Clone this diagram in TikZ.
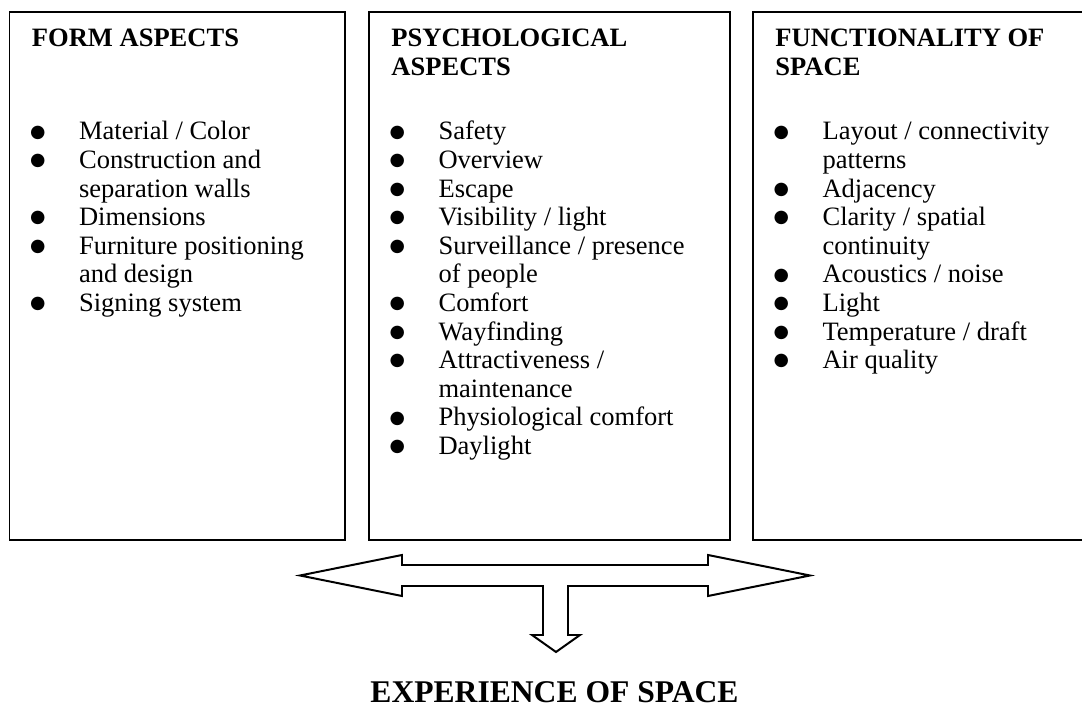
\documentclass[tikz,border=0pt]{standalone}
\usepackage{fontspec}
\setmainfont{Liberation Serif}
\newfontfamily\symfont{DejaVu Sans}
\usetikzlibrary{positioning}
\newcommand{\blt}{\hspace*{-0.8pt}\raisebox{1.3pt}{\symfont\fontsize{8}{9}\selectfont ●}}

\begin{document}
\begin{tikzpicture}[x=0.4525pt,y=-0.4525pt,line width=0.9pt,line join=miter]
	\tikzset{aspectbox/.style={draw,rectangle,inner sep=0pt,outer sep=0pt,minimum height=238.9pt,anchor=north west}}
	\tikzset{headtext/.style={inner sep=0pt,anchor=base west,font=\bfseries\fontsize{12}{12.94}\selectfont}}
	\tikzset{listtext/.style={inner sep=0pt,anchor=base west,font=\fontsize{12}{12.94}\selectfont}}
	\useasboundingbox (0,0) rectangle (1082,707);
	\clip (0,0) rectangle (1082,707);
	% the three boxes
	\node[aspectbox,minimum width=152pt]   (form)  at (9.5,12) {};
	\node[aspectbox,minimum width=163.4pt] (psych) at (369,12) {};
	\node[aspectbox,minimum width=160pt]   (func)  at (753,12) {};
	% headings
	\node[headtext] (formhead)  at (31,47)    {\begin{tabular}[t]{@{}l@{}}FORM ASPECTS\end{tabular}};
	\node[headtext] (psychhead) at (390.5,47) {\begin{tabular}[t]{@{}l@{}}PSYCHOLOGICAL\\ASPECTS\end{tabular}};
	\node[headtext] (funchead)  at (774.5,47) {\begin{tabular}[t]{@{}l@{}}FUNCTIONALITY OF\\SPACE\end{tabular}};
	% lists
	\node[listtext] (formlist) at (31,140) {\begin{tabular}[t]{@{}p{21.3pt}@{}l@{}}
		\blt & Material / Color\\
		\blt & Construction and\\
		     & separation walls\\
		\blt & Dimensions\\
		\blt & Furniture positioning\\
		     & and design\\
		\blt & Signing system
	\end{tabular}};
	\node[listtext] (psychlist) at (390.5,140) {\begin{tabular}[t]{@{}p{21.3pt}@{}l@{}}
		\blt & Safety\\
		\blt & Overview\\
		\blt & Escape\\
		\blt & Visibility / light\\
		\blt & Surveillance / presence\\
		     & of people\\
		\blt & Comfort\\
		\blt & Wayfinding\\
		\blt & Attractiveness /\\
		     & maintenance\\
		\blt & Physiological comfort\\
		\blt & Daylight
	\end{tabular}};
	\node[listtext] (funclist) at (774.5,140) {\begin{tabular}[t]{@{}p{21.3pt}@{}l@{}}
		\blt & Layout / connectivity\\
		     & patterns\\
		\blt & Adjacency\\
		\blt & Clarity / spatial\\
		     & continuity\\
		\blt & Acoustics / noise\\
		\blt & Light\\
		\blt & Temperature / draft\\
		\blt & Air quality
	\end{tabular}};
	% result
	\node[inner sep=0pt,anchor=base,font=\bfseries\fontsize{14.3}{16}\selectfont] (experience) at (554.5,703) {EXPERIENCE OF SPACE};
	% block arrows
	\coordinate (lefttip)  at (300,575.5);
	\coordinate (righttip) at (810,575.5);
	\coordinate (downtip)  at (556,652);
	\draw (lefttip) -- (402,555) -- (402,565) -- (708,565) -- (708,555) -- (righttip)
		-- (708,596) -- (708,586) -- (568,586) -- (568,635) -- (580,635) -- (downtip)
		-- (532,635) -- (543,635) -- (543,586) -- (402,586) -- (402,596) -- cycle;
\end{tikzpicture}
\end{document}
